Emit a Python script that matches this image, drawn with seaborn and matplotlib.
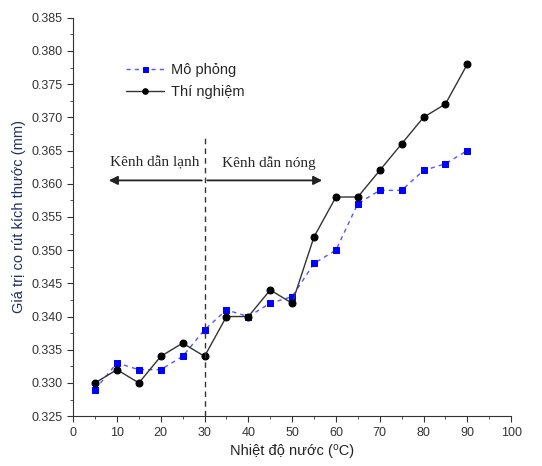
import pandas as pd
import matplotlib.pyplot as plt
import seaborn as sns
from matplotlib.ticker import MultipleLocator

# data
nhiet_do = [5, 10, 15, 20, 25, 30, 35, 40, 45, 50, 55, 60, 65, 70, 75, 80, 85, 90]
mo_phong = [0.329, 0.333, 0.332, 0.332, 0.334, 0.338, 0.341, 0.340, 0.342, 0.343,
            0.348, 0.350, 0.357, 0.359, 0.359, 0.362, 0.363, 0.365]
thi_nghiem = [0.330, 0.332, 0.330, 0.334, 0.336, 0.334, 0.340, 0.340, 0.344, 0.342,
              0.352, 0.358, 0.358, 0.362, 0.366, 0.370, 0.372, 0.378]

df = pd.DataFrame({"T": nhiet_do, "Mô phỏng": mo_phong, "Thí nghiệm": thi_nghiem})

sns.set_style("ticks")
plt.rcParams['font.family'] = ['Liberation Sans', 'DejaVu Sans']

fig = plt.figure(figsize=(5.42, 4.66), dpi=100)
ax = fig.add_axes([0.135, 0.107, 0.808, 0.855])

sns.lineplot(data=df, x="T", y="Mô phỏng", ax=ax, color="#5555ff", linestyle=(0, (3, 3)),
             linewidth=1.0, marker="s", markersize=4.5, markerfacecolor="#0000ff",
             markeredgecolor="#0000ff", label="Mô phỏng")
sns.lineplot(data=df, x="T", y="Thí nghiệm", ax=ax, color="#333333", linewidth=1.0,
             marker="o", markersize=5, markerfacecolor="black", markeredgecolor="black",
             label="Thí nghiệm")

ax.set_xlim(0, 100)
ax.set_ylim(0.325, 0.385)
ax.xaxis.set_major_locator(MultipleLocator(10))
ax.xaxis.set_minor_locator(MultipleLocator(5))
ax.yaxis.set_major_locator(MultipleLocator(0.005))
ax.yaxis.set_minor_locator(MultipleLocator(0.0025))
ax.yaxis.set_major_formatter(plt.FormatStrFormatter('%.3f'))
ax.tick_params(which='major', length=4, labelsize=9, colors='#333333')
ax.tick_params(which='minor', length=2.5, colors='#333333')
sns.despine(ax=ax)
for s in ['left', 'bottom']:
    ax.spines[s].set_color('#333333')

ax.set_xlabel("Nhiệt độ nước (⁰C)", fontsize=10.5, color='#222222')
ax.set_ylabel("Giá trị co rút kích thước (mm)", fontsize=10.5, color='#1f2f60')

# channel annotation
ax.plot([30, 30], [0.325, 0.3675], linestyle=(0, (4, 3)), color='#333333', linewidth=1)
ax.annotate("", xy=(7.5, 0.3605), xytext=(30, 0.3605),
            arrowprops=dict(arrowstyle='-|>', color='#222222', lw=1.3, mutation_scale=13))
ax.annotate("", xy=(57.5, 0.3605), xytext=(30, 0.3605),
            arrowprops=dict(arrowstyle='-|>', color='#222222', lw=1.3, mutation_scale=13))
ax.text(18.6, 0.3631, "Kênh dẫn lạnh", ha='center', va='center', fontsize=11,
        family=['Liberation Serif', 'DejaVu Serif'])
ax.text(44.6, 0.3631, "Kênh dẫn nóng", ha='center', va='center', fontsize=11,
        family=['Liberation Serif', 'DejaVu Serif'])

ax.legend(loc='upper left', bbox_to_anchor=(0.09, 0.92), frameon=False, fontsize=10.5,
          handlelength=2.6, handletextpad=0.5, labelspacing=0.6, markerscale=0.8)

fig.savefig("out.png", dpi=100)
